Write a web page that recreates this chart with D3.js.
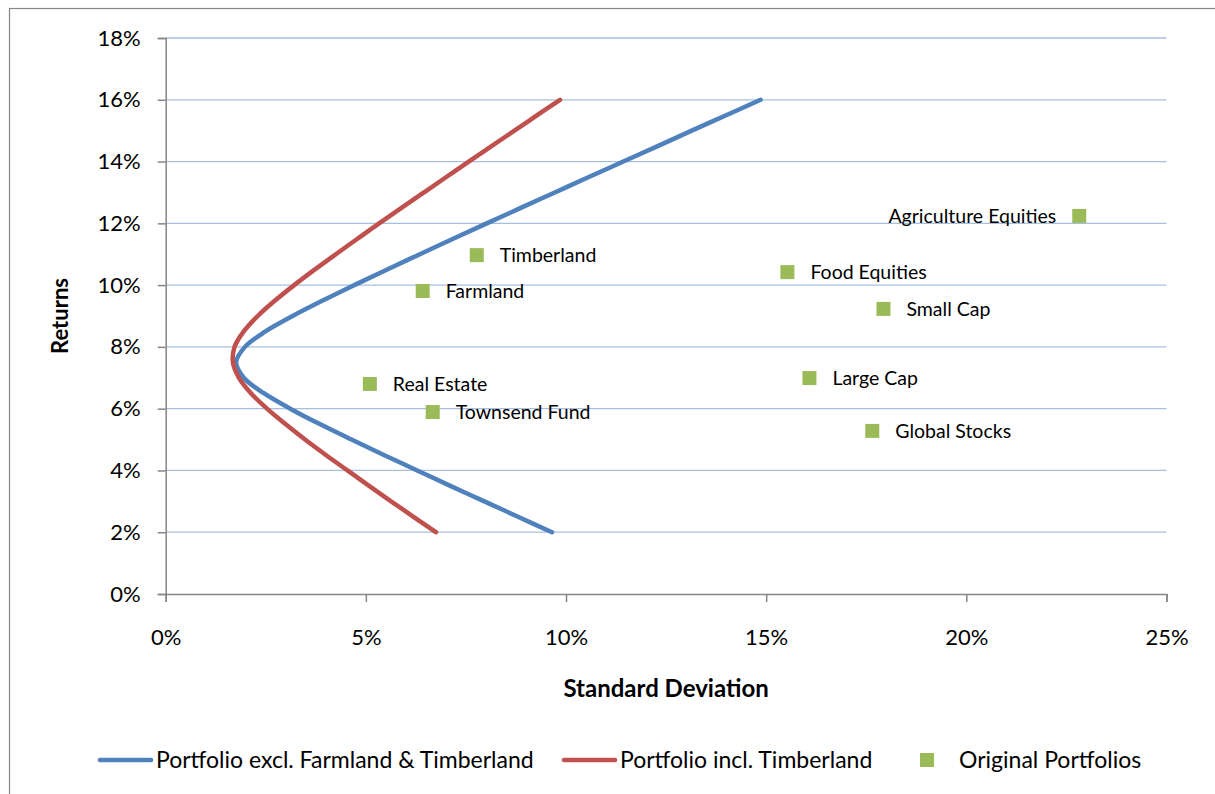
<!DOCTYPE html>
<html>
<head>
<meta charset="utf-8">
<script src="https://cdn.jsdelivr.net/npm/d3@7"></script>
<style>
  html, body { margin: 0; padding: 0; background: #fff; }
  svg { display: block; font-family: Lato, "Open Sans", sans-serif; }
</style>
</head>
<body>
<svg id="chart" width="1215" height="794"></svg>
<script>
// Efficient frontier, excluding farmland & timberland: returns (%) and standard deviations (%)
const frontierExclReturn = [2.0, 2.5, 3.0, 3.5, 4.0, 4.5, 5.0, 5.5, 6.0, 6.5, 7.0, 7.5, 8.0, 8.5, 9.0, 9.5, 10.0, 10.5, 11.0, 11.5, 12.0, 12.5, 13.0, 13.5, 14.0, 14.5, 15.0, 15.5, 16.0];
const frontierExclSD     = [9.65, 8.80, 7.96, 7.11, 6.28, 5.45, 4.64, 3.85, 3.11, 2.45, 1.95, 1.76, 1.98, 2.49, 3.17, 3.92, 4.71, 5.52, 6.35, 7.18, 8.02, 8.87, 9.72, 10.57, 11.43, 12.29, 13.14, 14.00, 14.86];

// Efficient frontier including timberland
const frontierInclReturn = [2.0, 2.5, 3.0, 3.5, 4.0, 4.5, 5.0, 5.5, 6.0, 6.5, 7.0, 7.5, 8.0, 8.5, 9.0, 9.5, 10.0, 10.5, 11.0, 11.5, 12.0, 12.5, 13.0, 13.5, 14.0, 14.5, 15.0, 15.5, 16.0];
const frontierInclSD     = [6.75, 6.19, 5.63, 5.08, 4.54, 4.00, 3.48, 2.99, 2.53, 2.13, 1.83, 1.68, 1.72, 1.95, 2.30, 2.73, 3.21, 3.72, 4.25, 4.79, 5.33, 5.89, 6.45, 7.01, 7.57, 8.14, 8.71, 9.28, 9.85];

// Individual asset classes
const assetNames   = ["Agriculture Equities", "Timberland", "Farmland", "Food Equities", "Small Cap", "Real Estate", "Townsend Fund", "Large Cap", "Global Stocks"];
const assetSD      = [22.82, 7.77, 6.42, 15.53, 17.93, 5.10, 6.67, 16.08, 17.65];
const assetReturn  = [12.24, 10.97, 9.81, 10.42, 9.23, 6.80, 5.89, 6.99, 5.28];
const labelLeft    = [true, false, false, false, false, false, false, false, false];

// Axis ticks
const xTicks = [0, 5, 10, 15, 20, 25];
const yTicks = [0, 2, 4, 6, 8, 10, 12, 14, 16, 18];

const seriesNames  = ["Portfolio excl. Farmland & Timberland", "Portfolio incl. Timberland", "Original Portfolios"];
const seriesColors = ["#4F81BD", "#C0504D", "#9BBB59"];

const svg = d3.select("#chart");

// Chart frame
svg.append("rect")
  .attr("x", 9.5).attr("y", 8.5).attr("width", 1220).attr("height", 800)
  .attr("fill", "#fff").attr("stroke", "#868686").attr("stroke-width", 1.2);

const plot = { left: 165.7, right: 1166.5, top: 38, bottom: 594 };

const x = d3.scaleLinear().domain([0, 25]).range([plot.left, plot.right]);
const y = d3.scaleLinear().domain([0, 18]).range([plot.bottom, plot.top]);

// Horizontal gridlines
svg.append("g")
  .selectAll("line")
  .data(yTicks.filter(d => d > 0))
  .join("line")
  .attr("x1", plot.left).attr("x2", plot.right)
  .attr("y1", d => y(d)).attr("y2", d => y(d))
  .attr("stroke", "#A7BFDE").attr("stroke-width", 1.3);

// Y axis
const yAxis = svg.append("g")
  .attr("transform", `translate(${plot.left},0)`)
  .call(d3.axisLeft(y).tickValues(yTicks).tickFormat(d => d + "%").tickSize(8).tickPadding(17));
yAxis.select(".domain").attr("stroke", "#868686").attr("stroke-width", 1.5);
yAxis.selectAll(".tick line").attr("stroke", "#868686").attr("stroke-width", 1.5);
yAxis.selectAll(".tick text").attr("font-size", 22).attr("fill", "#000").attr("font-family", "Lato, sans-serif");

// X axis
const xAxis = svg.append("g")
  .attr("transform", `translate(0,${plot.bottom})`)
  .call(d3.axisBottom(x).tickValues(xTicks).tickFormat(d => d + "%").tickSize(8).tickPadding(27));
xAxis.select(".domain").attr("stroke", "#868686").attr("stroke-width", 1.5);
xAxis.selectAll(".tick line").attr("stroke", "#868686").attr("stroke-width", 1.5);
xAxis.selectAll(".tick text").attr("font-size", 22).attr("fill", "#000").attr("font-family", "Lato, sans-serif");

// Axis titles
svg.append("text")
  .attr("x", x(12.5)).attr("y", 697)
  .attr("text-anchor", "middle")
  .attr("font-size", 24).attr("font-weight", "bold")
  .text("Standard Deviation");

svg.append("text")
  .attr("transform", `translate(68,${y(9)}) rotate(-90)`)
  .attr("text-anchor", "middle")
  .attr("font-size", 22).attr("font-weight", "bold")
  .text("Returns");

// Frontier curves
const line = d3.line()
  .x(d => x(d[1]))
  .y(d => y(d[0]))
  .curve(d3.curveCatmullRom.alpha(0.5));

const exclData = frontierExclReturn.map((r, i) => [r, frontierExclSD[i]]);
const inclData = frontierInclReturn.map((r, i) => [r, frontierInclSD[i]]);

svg.append("path")
  .datum(exclData)
  .attr("d", line)
  .attr("fill", "none")
  .attr("stroke", seriesColors[0])
  .attr("stroke-width", 4.5)
  .attr("stroke-linecap", "round")
  .attr("stroke-linejoin", "round");

svg.append("path")
  .datum(inclData)
  .attr("d", line)
  .attr("fill", "none")
  .attr("stroke", seriesColors[1])
  .attr("stroke-width", 4.5)
  .attr("stroke-linecap", "round")
  .attr("stroke-linejoin", "round");

// Asset markers and labels
const assets = assetNames.map((n, i) => ({ name: n, sd: assetSD[i], ret: assetReturn[i], left: labelLeft[i] }));
const ms = 14;

const ag = svg.append("g");
ag.selectAll("rect")
  .data(assets)
  .join("rect")
  .attr("x", d => x(d.sd) - ms / 2)
  .attr("y", d => y(d.ret) - ms / 2)
  .attr("width", ms).attr("height", ms)
  .attr("fill", seriesColors[2]);

ag.selectAll("text")
  .data(assets)
  .join("text")
  .attr("x", d => d.left ? x(d.sd) - 23 : x(d.sd) + 23)
  .attr("y", d => y(d.ret))
  .attr("dy", "0.35em")
  .attr("text-anchor", d => d.left ? "end" : "start")
  .attr("font-size", 19.5)
  .attr("fill", "#000")
  .text(d => d.name);

// Legend
const legendY = 760;
const legend = svg.append("g").attr("font-size", 23);

legend.append("line")
  .attr("x1", 100).attr("x2", 151).attr("y1", legendY).attr("y2", legendY)
  .attr("stroke", seriesColors[0]).attr("stroke-width", 4.5).attr("stroke-linecap", "round");
legend.append("text").attr("x", 156).attr("y", legendY).attr("dy", "0.35em").text(seriesNames[0]);

legend.append("line")
  .attr("x1", 564).attr("x2", 615).attr("y1", legendY).attr("y2", legendY)
  .attr("stroke", seriesColors[1]).attr("stroke-width", 4.5).attr("stroke-linecap", "round");
legend.append("text").attr("x", 620).attr("y", legendY).attr("dy", "0.35em").text(seriesNames[1]);

legend.append("rect")
  .attr("x", 920).attr("y", legendY - 7).attr("width", 14).attr("height", 14)
  .attr("fill", seriesColors[2]);
legend.append("text").attr("x", 959).attr("y", legendY).attr("dy", "0.35em").text(seriesNames[2]);
</script>
</body>
</html>
